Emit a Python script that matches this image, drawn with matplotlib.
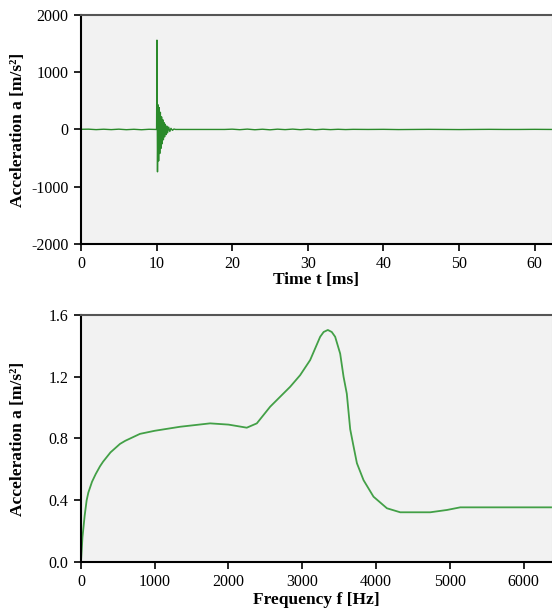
import matplotlib
matplotlib.use("Agg")
import matplotlib.pyplot as plt

plt.rcParams['font.family'] = ['Liberation Serif', 'DejaVu Serif']
plt.rcParams['axes.unicode_minus'] = False

# time signal (ms, m/s^2)
time_ms = [0, 1, 2, 3, 4, 5, 6, 7, 8, 9, 9.9,
           10.0, 10.05, 10.12, 10.2, 10.27, 10.35, 10.42, 10.5, 10.58, 10.66,
           10.74, 10.82, 10.9, 10.98, 11.06, 11.15, 11.25, 11.35, 11.45, 11.6,
           11.75, 11.9, 12.1, 12.3, 12.5,
           13, 15, 17, 19, 20, 21, 22, 23, 24, 25, 26, 27, 28, 29, 30, 31, 32,
           33, 34, 35, 36, 38, 40, 42, 44, 46, 48, 50, 52, 54, 56, 58, 60, 62.3]
accel = [3, 5, -3, 4, -3, 5, -4, 3, -5, 3, 0,
         0, 1560, -740, 430, -550, 380, -420, 300, -330, 220,
         -250, 170, -180, 120, -130, 90, -90, 60, -60, 40,
         -35, 20, -15, 8, 0,
         0, 0, 0, 0, 5, -4, 6, -5, 4, -6, 5, -3, 6, -4, 5, -5, 4,
         -3, 3, -2, 2, 0, 2, -2, 0, 2, 0, -2, 0, 2, 0, 0, 2, 0]

# spectrum (Hz, m/s^2)
freq_hz = [0, 20, 50, 77, 100, 150, 200, 258, 300, 400, 529, 600, 800, 1000,
           1343, 1750, 2000, 2248, 2384, 2565, 2836, 2971, 3107, 3243, 3290,
           3347, 3400, 3446, 3514, 3560, 3604, 3650, 3695, 3741, 3831, 3966,
           4148, 4328, 4735, 4962, 5142, 6386]
spec = [0.0, 0.16, 0.30, 0.40, 0.45, 0.52, 0.57, 0.62, 0.65, 0.71, 0.765, 0.785,
        0.83, 0.85, 0.876, 0.898, 0.89, 0.87, 0.898, 1.006, 1.135, 1.21, 1.308,
        1.459, 1.49, 1.503, 1.49, 1.459, 1.35, 1.2, 1.09, 0.86, 0.75, 0.64,
        0.53, 0.423, 0.348, 0.322, 0.322, 0.337, 0.354, 0.354]

fig = plt.figure(figsize=(5.52, 6.15), dpi=100)
ax1 = fig.add_axes([0.1467, 0.6033, 0.8533, 0.3724])
ax2 = fig.add_axes([0.1467, 0.0862, 0.8533, 0.4016])

ax1.plot(time_ms, accel, color='#2a8a2a', lw=1.0)
ax1.set_xlim(0, 62.3)
ax1.set_ylim(-2000, 2000)
ax1.set_xticks([0, 10, 20, 30, 40, 50, 60])
ax1.set_yticks([-2000, -1000, 0, 1000, 2000])
ax1.set_xlabel('Time t [ms]', fontweight='bold', fontsize=12.5, labelpad=0)
ax1.set_ylabel('Acceleration a [m/s²]', fontweight='bold', fontsize=12.5)

ax2.plot(freq_hz, spec, color='#43a047', lw=1.3)
ax2.set_xlim(0, 6386)
ax2.set_ylim(0, 1.6)
ax2.set_xticks([0, 1000, 2000, 3000, 4000, 5000, 6000])
ax2.set_yticks([0.0, 0.4, 0.8, 1.2, 1.6])
ax2.set_yticklabels(['0.0', '0.4', '0.8', '1.2', '1.6'])
ax2.set_xlabel('Frequency f [Hz]', fontweight='bold', fontsize=12.5, labelpad=1)
ax2.set_ylabel('Acceleration a [m/s²]', fontweight='bold', fontsize=12.5)

for ax in (ax1, ax2):
    ax.set_facecolor('#f2f2f2')
    ax.spines['left'].set_linewidth(1.5)
    ax.spines['bottom'].set_linewidth(1.5)
    ax.spines['top'].set_color('#555555')
    ax.spines['top'].set_linewidth(1.5)
    ax.spines['right'].set_color('#dddddd')
    ax.tick_params(direction='out', length=5, width=1.2, labelsize=11.5, pad=4)
    ax.yaxis.set_label_coords(-0.117, 0.5)

fig.savefig('out.png', dpi=100)
